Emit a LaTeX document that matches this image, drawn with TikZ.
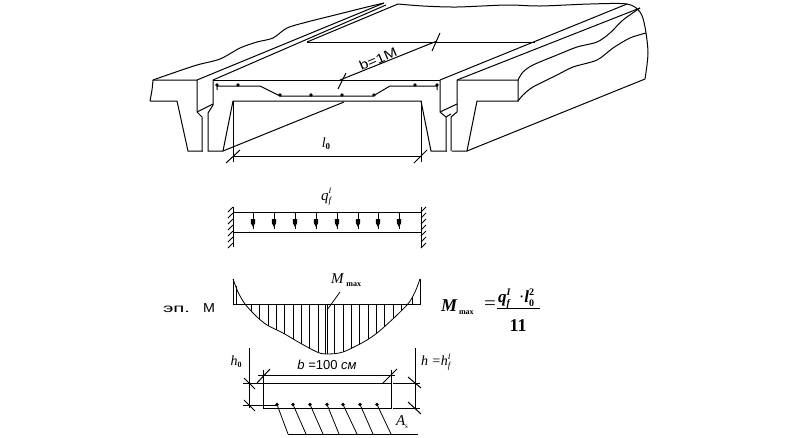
\documentclass[tikz,border=0pt]{standalone}
\usepackage{fontspec}
\setmainfont{Liberation Serif}
\setsansfont{Liberation Sans}
\newcommand{\lo}[2]{\raisebox{-#1pt}{#2}}
\newcommand{\both}[4]{\rlap{\raisebox{#1pt}{#3}}\raisebox{-#2pt}{#4}}
\tikzset{
  ln/.style={line width=1pt,black,line join=miter},
  thin ln/.style={line width=0.8pt,black},
  lbl/.style={inner sep=0pt,outer sep=0pt,text=black},
  wide/.style={inner sep=0pt,outer sep=0pt,text=black,font=\sffamily},
  dot/.style={fill=black,draw=none},
}
\begin{document}
\begin{tikzpicture}[x=1pt,y=-1pt]
\useasboundingbox (0,0) rectangle (798,437);
\fill[white] (0,0) rectangle (798,437);
\begin{scope}[ln]
% left slab outline
\draw (150,101) -- (177,101) -- (188,151) -- (203,151);
\draw plot[smooth,tension=0.4] coordinates {(153,80) (152,90) (150,101)};
\draw (153,80) -- (197,80) -- (197,112) -- (202,117) -- (202,151);
\draw plot[smooth,tension=0.5] coordinates {(153,80) (173,73) (197,65) (220,59) (240,48) (257,42) (273,38) (287,28) (307,22) (327,17) (347,12) (367,7) (384,3)};
\draw (197,80) -- (384,3);
\draw (213,80) -- (386,5);
\draw (197,112) -- (213,104);
% centre panel
\draw (213,80) -- (440,80);
\draw (213,80) -- (213,105) -- (208,113) -- (208,151) -- (223,151) -- (233,101) -- (421,101) -- (431,151) -- (447,151);
\draw (223,151) -- (344,102);
\draw (340,80) -- (437,41);
\draw (307,42) -- (535,42);
\draw (307,42) -- (398,4);
% right slab
\draw (440,80) -- (440,112) -- (446,117) -- (446,151);
\draw (440,112) -- (457,104);
\draw (446,117) -- (451,114);
\draw (457,80) -- (457,112) -- (451,117) -- (451,151) ;
\draw (452,151) -- (467,151) -- (477,101) -- (518,101) -- (518,80) -- (457,80);
\draw (440,80) -- (627,4);
\draw (457,80) -- (640,8);
\draw (467,151) -- (645,79);
\draw plot[smooth,tension=0.5] coordinates {(518,80) (523,72) (533,65) (557,55) (577,47) (597,42) (610,33) (623,20) (640,8)};
\draw plot[smooth,tension=0.5] coordinates {(518,101) (523,95) (533,87) (557,75) (573,67) (597,60) (613,48) (630,38) (646,33)};
\draw plot[smooth,tension=0.5] coordinates {(398,4) (423,6) (457,7) (507,5) (540,6) (590,4) (627,4) (640,12) (645,27) (648,53) (645,79)};
% rebar
\draw (217,90) -- (217,86) -- (260,86) -- (280,96) -- (373,96) -- (390,86) -- (437,86) -- (437,90);
% dimensions
\draw (233,101) -- (233,162);
\draw (421,101) -- (421,162);
\draw (233,156) -- (421,156);
\draw (226,163) -- (240,150);
\draw (414,163) -- (427,150);
\draw (338,89) -- (346,73);
\draw (432,51) -- (440,33);
\end{scope}
\foreach \p in {(217,85),(238,85),(280,95),(311,95),(342,95),(374,95),(415,85),(437,85)}
  \fill[dot] \p circle (1.8);
\node[wide,rotate=23,font=\sffamily\fontsize{13}{13}\selectfont,xscale=1.2] (bm) at (378,59) {b=1М};
\node[lbl,font=\itshape\fontsize{14}{14}\selectfont] (lz) at (326,144) {l\lo{2}{\fontsize{9}{9}\bfseries\upshape 0}};
% beam
\begin{scope}[ln]
\draw (233,212) -- (421,212);
\draw (233,232) -- (421,232);
\draw (233,207) -- (233,247);
\draw (421,207) -- (421,247);
\foreach \y in {212,218,224,230,236,242,248} {
  \draw[thin ln] (228,\y) -- (233,\y-5);
  \draw[thin ln] (421,\y) -- (426,\y-5);
}
\foreach \x in {253,274,295,316,337,358,378,399} {
  \draw (\x,212) -- (\x,229);
  \fill[black] (\x-2.2,219) -- (\x+2.2,219) -- (\x+2.2,223) -- (\x,227) -- (\x-2.2,223) -- cycle;
}
\end{scope}
\node[lbl,font=\itshape\fontsize{15}{15}\selectfont] (qf) at (326,197) {q\both{7}{3}{\fontsize{8}{8}\selectfont I}{\fontsize{9}{9}\selectfont f}};
% moment diagram
\begin{scope}[ln]
\draw (233,279) -- (233,304) -- (420,304) -- (420,279);
\end{scope}
\begin{scope}
\clip (233,304) -- plot[smooth,tension=0.5] coordinates {(245,304) (256,316) (267,325) (283,333) (300,343) (317,352) (326,354) (343,352) (367,340) (383,328) (407,305)} -- cycle;
\foreach \x in {251,259,268,276,284,293,301,309,318,325,327,334,343,351,359,368,376,384,393,401}
  \draw[thin ln] (\x,304) -- (\x,360);
\end{scope}
\draw[thin ln] plot[smooth,tension=0.5] coordinates {(233,279) (238,292) (245,304) (256,316) (267,325) (283,333) (300,343) (317,352) (326,354) (343,352) (367,340) (383,328) (407,305) (415,292) (420,279)};
\draw[thin ln] (236,286) -- (236,304);
\draw[thin ln] (412,297) -- (412,304);
\coordinate (lead) at (340,292);
\coordinate (leadend) at (327,310);
\draw[thin ln] (lead) -- (leadend);
\node[lbl,font=\itshape\fontsize{15}{15}\selectfont,anchor=base west] (mm) at (331,283) {M\hspace{3pt}\lo{3}{\upshape\bfseries\fontsize{8}{8}\selectfont max}};
\node[wide,anchor=base west,font=\sffamily\fontsize{12}{12}\selectfont,xscale=1.7] (ep) at (163,312) {эп.};
\node[wide,anchor=base west,font=\sffamily\fontsize{13}{13}\selectfont,xscale=1.1] (em) at (203,312) {М};
% formula
\node[lbl,anchor=base west,font=\bfseries\itshape\fontsize{18}{18}\selectfont] (fm) at (441,311) {M\hspace{2pt}\lo{3}{\upshape\bfseries\fontsize{8}{8}\selectfont max}};
\node[lbl,font=\fontsize{19}{19}\selectfont,xscale=1.1] (feq) at (490,305) {=};
\draw[ln] (497,308) -- (540,308);
\node[lbl,anchor=base west,font=\bfseries\itshape\fontsize{17}{17}\selectfont] (fq) at (498,302) {q\both{7}{4}{\fontsize{10}{10}\selectfont I}{\fontsize{10}{10}\selectfont f}\hspace{9pt}{\upshape\mdseries·}l\both{7}{4}{\upshape\fontsize{10}{10}\selectfont 2}{\upshape\fontsize{10}{10}\selectfont 0}};
\node[lbl,font=\bfseries\fontsize{18}{18}\selectfont] (f11) at (518,326) {11};
% section
\begin{scope}[ln]
\draw (263,383) rectangle (391,408);
\draw (243,383) -- (263,383);
\draw (243,405) -- (277,405);
\draw (249,348) -- (249,408);
\draw (244,378) -- (255,389);
\draw (244,400) -- (255,411);
\draw (258,375) -- (395,375);
\draw (263,370) -- (263,383);
\draw (391,370) -- (391,383);
\draw (257,383) -- (270,369);
\draw (383,383) -- (397,369);
\draw (393,383) -- (420,383);
\draw (393,408) -- (420,408);
\draw (415,348) -- (415,408);
\draw (408,377) -- (421,388);
\draw (408,402) -- (421,414);
\draw (288,434) -- (418,434);
\end{scope}
\foreach \a/\b in {277/288,293/306,310/323,327/339,343/357,360/373,377/391} {
  \fill[dot] (\a,404.5) circle (1.8);
  \draw[thin ln] (\a,404.5) -- (\b,434);
}
\node[lbl,font=\itshape\fontsize{15}{15}\selectfont] (as) at (402,422) {A\lo{3}{\upshape\fontsize{7}{7}\selectfont s}};
\node[lbl,font=\sffamily\fontsize{13}{13}\selectfont] (bh) at (327,365) {\textit{b} =100 \textit{см}};
\node[lbl,font=\itshape\fontsize{14}{14}\selectfont] (hz) at (236,362) {h\lo{2}{\upshape\bfseries\fontsize{8}{8}\selectfont 0}};
\node[lbl,font=\itshape\fontsize{14}{14}\selectfont,anchor=west] (hh) at (421,362) {h =h\both{6}{3}{\fontsize{8}{8}\selectfont I}{\fontsize{9}{9}\selectfont f}};
\end{tikzpicture}
\end{document}
